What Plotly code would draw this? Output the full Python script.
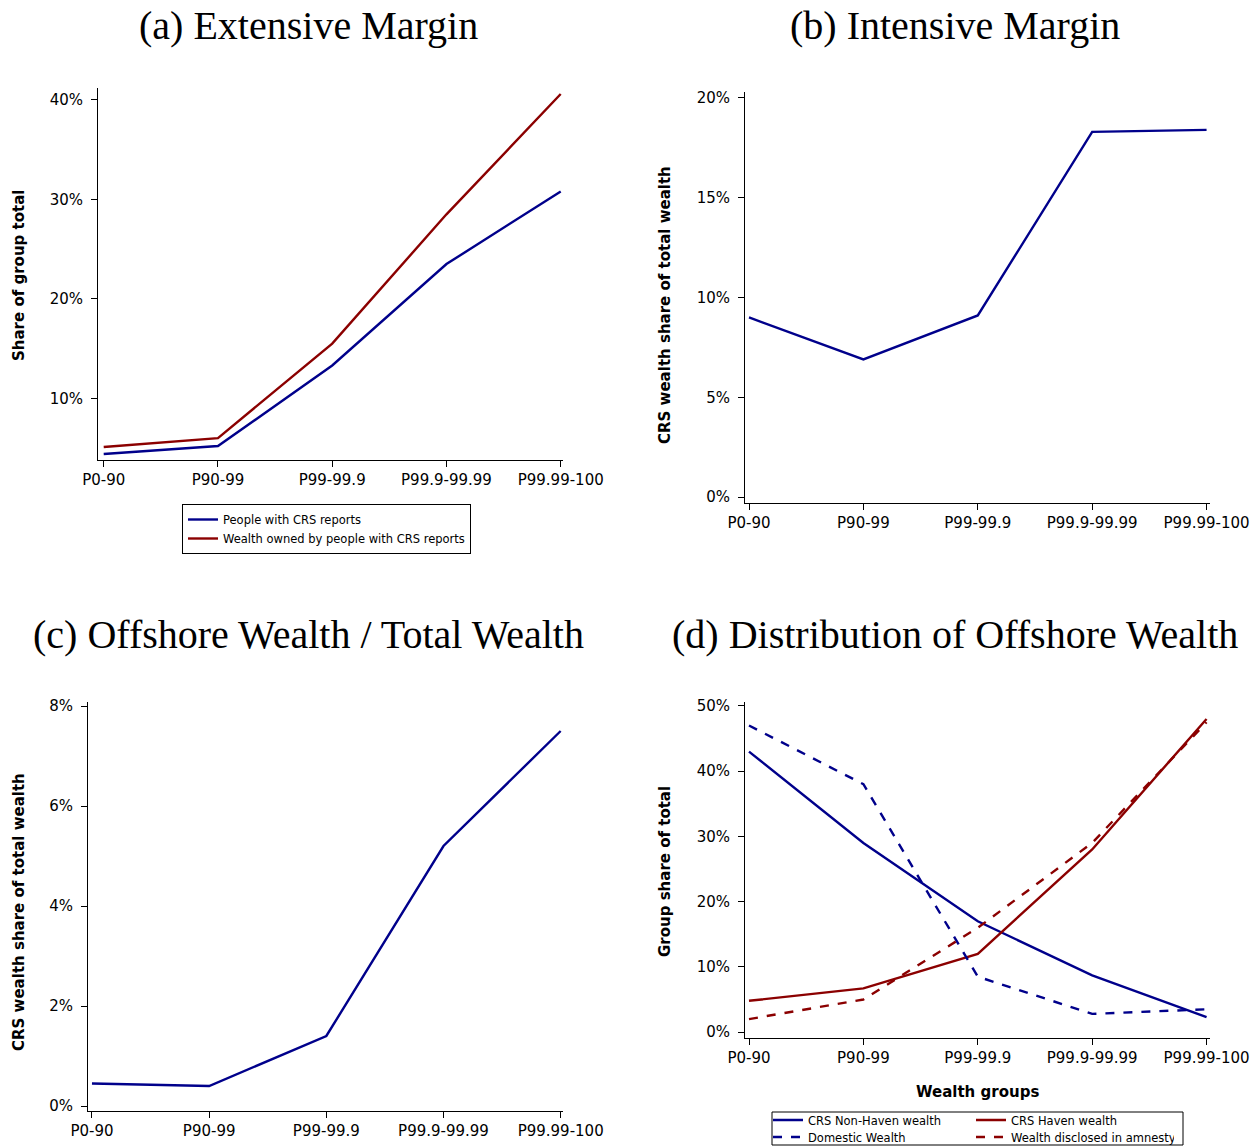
import plotly.graph_objects as go

groups = ["P0-90", "P90-99", "P99-99.9", "P99.9-99.99", "P99.99-100"]
a_people = [4.4, 5.2, 13.3, 23.5, 30.8]
a_wealth = [5.1, 6.0, 15.5, 28.5, 40.6]
b_intensive = [9.0, 6.9, 9.1, 18.3, 18.4]
c_offshore = [0.45, 0.4, 1.4, 5.2, 7.5]
d_nonhaven = [43, 29, 17, 8.7, 2.3]
d_domestic = [47, 38, 8.5, 2.8, 3.5]
d_haven = [4.8, 6.7, 12, 28, 48]
d_amnesty = [2, 5, 16, 29, 47.5]

W, H = 1256, 1147
BLUE, RED = "#00008B", "#8B0000"
FONT = "DejaVu Sans"
xs = list(range(5))

def px(x0, x1): return [x0 / W, x1 / W]
def py(top, bot): return [1 - bot / H, 1 - top / H]

fig = go.Figure()
def add(y, name, color, dash, xa, ya, legend, show=True):
    fig.add_trace(go.Scatter(x=xs, y=y, mode="lines", name=name, line=dict(color=color, width=2.4, dash=dash),
                             xaxis=xa, yaxis=ya, legend=legend, showlegend=show))

add(a_people, "People with CRS reports", BLUE, "solid", "x", "y", "legend")
add(a_wealth, "Wealth owned by people with CRS reports", RED, "solid", "x", "y", "legend")
add(b_intensive, "b", BLUE, "solid", "x2", "y2", "legend", False)
add(c_offshore, "c", BLUE, "solid", "x3", "y3", "legend", False)
add(d_nonhaven, "CRS Non-Haven wealth", BLUE, "solid", "x4", "y4", "legend2")
add(d_haven, "CRS Haven wealth", RED, "solid", "x4", "y4", "legend2")
add(d_domestic, "Domestic Wealth", BLUE, "dash", "x4", "y4", "legend3")
add(d_amnesty, "Wealth disclosed in amnesty", RED, "dash", "x4", "y4", "legend3")

ax = dict(showline=True, linecolor="black", linewidth=1, ticks="outside", ticklen=6, tickcolor="black",
          showgrid=False, zeroline=False, automargin=False,
          tickfont=dict(family=FONT, size=15, color="black"))
xcat = dict(ax, tickmode="array", tickvals=xs, ticktext=groups)

def yax(vals, dom, rng, xanchor):
    return dict(ax, domain=dom, range=rng, tickmode="array", tickvals=vals, ticklabelstandoff=5,
                ticktext=[f"{v}%" for v in vals], anchor=xanchor)

LF = dict(family=FONT, size=11.5, color="black")
fig.update_layout(
    width=W, height=H, margin=dict(l=0, r=0, t=0, b=0, autoexpand=False),
    plot_bgcolor="white", paper_bgcolor="white",
    xaxis=dict(xcat, domain=px(98, 563), range=[-0.05, 4.02], anchor="y"),
    yaxis=yax([10, 20, 30, 40], py(88, 460), [3.8, 41.2], "x"),
    xaxis2=dict(xcat, domain=px(745, 1210), range=[-0.035, 4.03], anchor="y2"),
    yaxis2=yax([0, 5, 10, 15, 20], py(92, 503), [-0.3, 20.3], "x2"),
    xaxis3=dict(xcat, domain=px(88, 563), range=[-0.034, 4.02], anchor="y3"),
    yaxis3=yax([0, 2, 4, 6, 8], py(702, 1111), [-0.1, 8.08], "x3"),
    xaxis4=dict(xcat, domain=px(745, 1210), range=[-0.035, 4.03], anchor="y4"),
    yaxis4=yax([0, 10, 20, 30, 40, 50], py(702, 1038), [-0.9, 50.6], "x4"),
    legend=dict(x=182 / W, y=1 - 504 / H, xanchor="left", yanchor="top", bordercolor="black", borderwidth=1,
                font=LF, tracegroupgap=0, itemwidth=30, bgcolor="white",
                indentation=0),
    legend2=dict(x=768 / W, y=1 - 1120 / H, xanchor="left", yanchor="middle", orientation="h",
                 entrywidth=158, entrywidthmode="pixels", font=LF, bgcolor="rgba(0,0,0,0)", itemwidth=30),
    legend3=dict(x=768 / W, y=1 - 1137 / H, xanchor="left", yanchor="middle", orientation="h",
                 entrywidth=158, entrywidthmode="pixels", font=LF, bgcolor="rgba(0,0,0,0)", itemwidth=30),
)
fig.add_shape(type="rect", xref="paper", yref="paper", x0=772 / W, x1=1183 / W, y0=1 - 1145 / H, y1=1 - 1112 / H,
              line=dict(color="black", width=1))

def ann(text, x, y, size, family, angle=0, bold=False):
    fig.add_annotation(text=f"<b>{text}</b>" if bold else text, x=x / W, y=1 - y / H, xref="paper", yref="paper",
                       xanchor="center", yanchor="middle",
                       showarrow=False, textangle=angle, font=dict(family=family, size=size, color="black"))

SERIF = "Liberation Serif"
ann("(a) Extensive Margin", 308, 25, 40, SERIF)
ann("(b) Intensive Margin", 955, 25, 40, SERIF)
ann("(c) Offshore Wealth / Total Wealth", 308, 634, 40, SERIF)
ann("(d) Distribution of Offshore Wealth", 955, 634, 40, SERIF)
ann("Share of group total", 19, 276, 15, FONT, -90, True)
ann("CRS wealth share of total wealth", 665, 305, 15, FONT, -90, True)
ann("CRS wealth share of total wealth", 19, 912, 15, FONT, -90, True)
ann("Group share of total", 665, 872, 15, FONT, -90, True)
ann("Wealth groups", 977, 1092, 15, FONT, 0, True)

fig.write_html("out.html", config={"displayModeBar": False},
               post_script="document.body.style.margin='0';document.body.style.overflow='hidden';")
